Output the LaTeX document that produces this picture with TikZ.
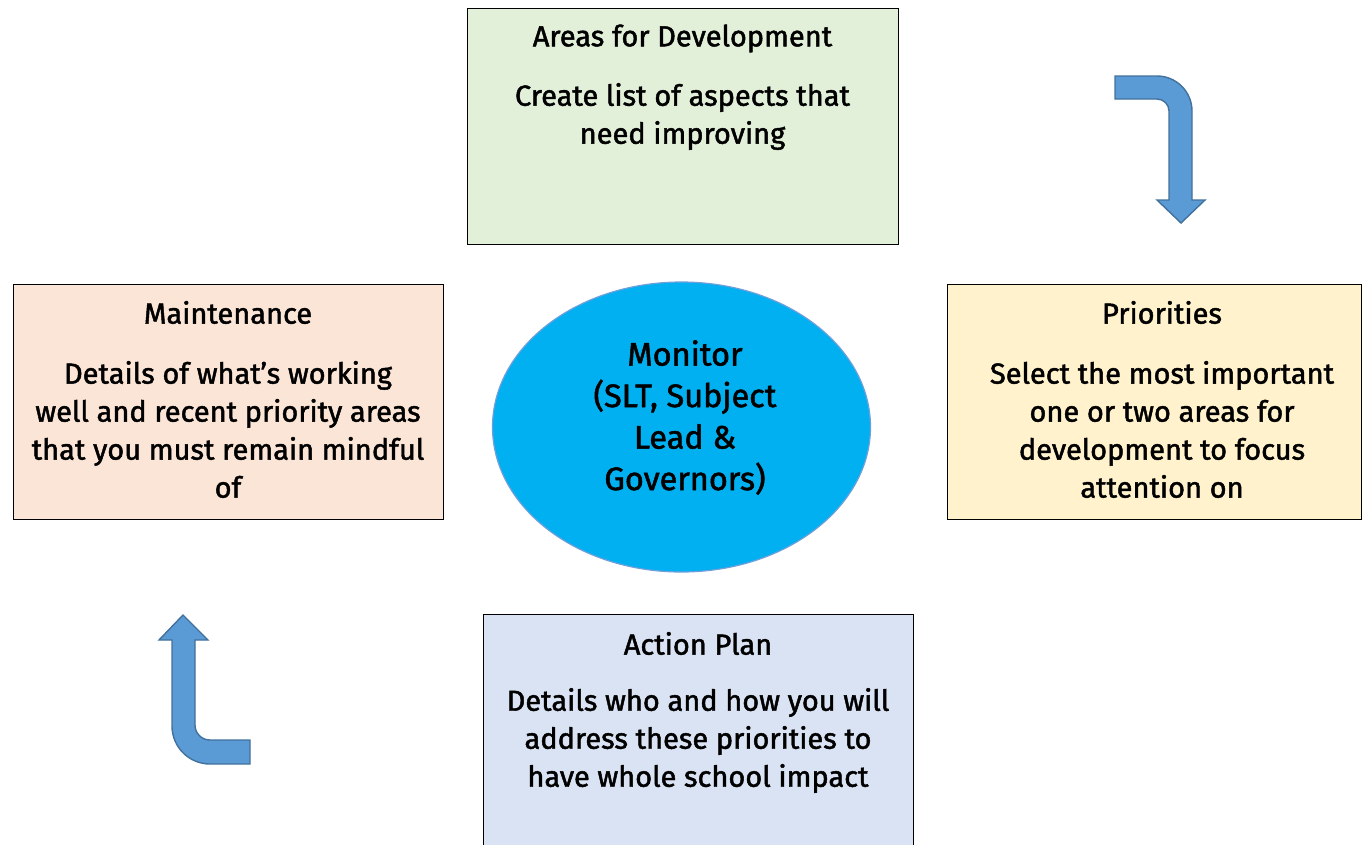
\documentclass[tikz,border=0pt]{standalone}
\usepackage{fontspec}
\setmainfont{Fira Sans}[FakeBold=1.6]
\usetikzlibrary{shapes.geometric}
\definecolor{boxgreen}{HTML}{E2F0D9}
\definecolor{boxpeach}{HTML}{FBE5D6}
\definecolor{boxyellow}{HTML}{FFF2CC}
\definecolor{boxblue}{HTML}{DAE3F3}
\definecolor{monfill}{HTML}{00B0F0}
\definecolor{monedge}{HTML}{6FA0DC}
\definecolor{arrfill}{HTML}{5B9BD5}
\definecolor{arredge}{HTML}{41719C}
\tikzset{
  panel/.style={draw=black, line width=0.9pt, inner sep=0pt},
  ttl/.style={font=\fontsize{29}{38}\selectfont, align=center, inner sep=0pt, anchor=center},
  body/.style={font=\fontsize{29}{38}\selectfont, align=center, inner sep=0pt, anchor=center},
  bentarrow/.style={fill=arrfill, draw=arredge, line width=1.4pt, line join=miter}
}
\begin{document}
\begin{tikzpicture}[x=1pt,y=-1pt]
\useasboundingbox (0,0) rectangle (1362,844);
% boxes
\draw[panel, fill=boxgreen] (467,8) rectangle (898,244);
\node (areas) at (682.5,126) {};
\draw[panel, fill=boxpeach] (13,284) rectangle (443,519);
\node (maint) at (228,401) {};
\draw[panel, fill=boxyellow] (947,284) rectangle (1361.5,519);
\node (prio) at (1154,401) {};
\draw[panel, fill=boxblue] (483,614) rectangle (913,850);
\node (plan) at (698,730) {};
% ellipse
\node[ellipse, draw=monedge, line width=1.2pt, fill=monfill, minimum width=378pt, minimum height=290pt, inner sep=0pt] (monitor) at (681.5,427) {};
% texts
\node[ttl] (areasT) at (682.5,38.5) {Areas for Development};
\node[body] (areasB) at (682.5,116.5) {Create list of aspects that\\need improving};
\node[ttl] (maintT) at (228,312.5) {Maintenance};
\node[body] (maintB) at (228,429.5) {Details of what’s working\\well and recent priority areas\\that you must remain mindful\\of};
\node[ttl] (prioT) at (1162,312.5) {Priorities};
\node[body] (prioB) at (1162,429.5) {Select the most important\\one or two areas for\\development to focus\\attention on};
\node[ttl] (planT) at (698,643.5) {Action Plan};
\node[body] (planB) at (698,740.5) {Details who and how you will\\address these priorities to\\have whole school impact};
\node[font=\fontsize{32.5}{41.5}\selectfont, align=center, inner sep=0pt] (monT) at (685,417.5) {Monitor\\(SLT, Subject\\Lead \&\\Governors)};
% bent arrows
\path[bentarrow] (1115,76) -- (1157,76) .. controls (1176.3,76) and (1192,91.7) .. (1192,111) -- (1192,200) -- (1205,200) -- (1181,223) -- (1157,200) -- (1169,200) -- (1169,111) .. controls (1169,104.4) and (1163.6,99) .. (1157,99) -- (1115,99) -- cycle;
\path[bentarrow] (183,615) -- (208,640) -- (195,640) -- (195,725) .. controls (195,733.3) and (201.7,740) .. (210,740) -- (250,740) -- (250,764) -- (210,764) .. controls (189,764) and (172,747) .. (172,726) -- (172,640) -- (159,640) -- cycle;
\end{tikzpicture}
\end{document}
